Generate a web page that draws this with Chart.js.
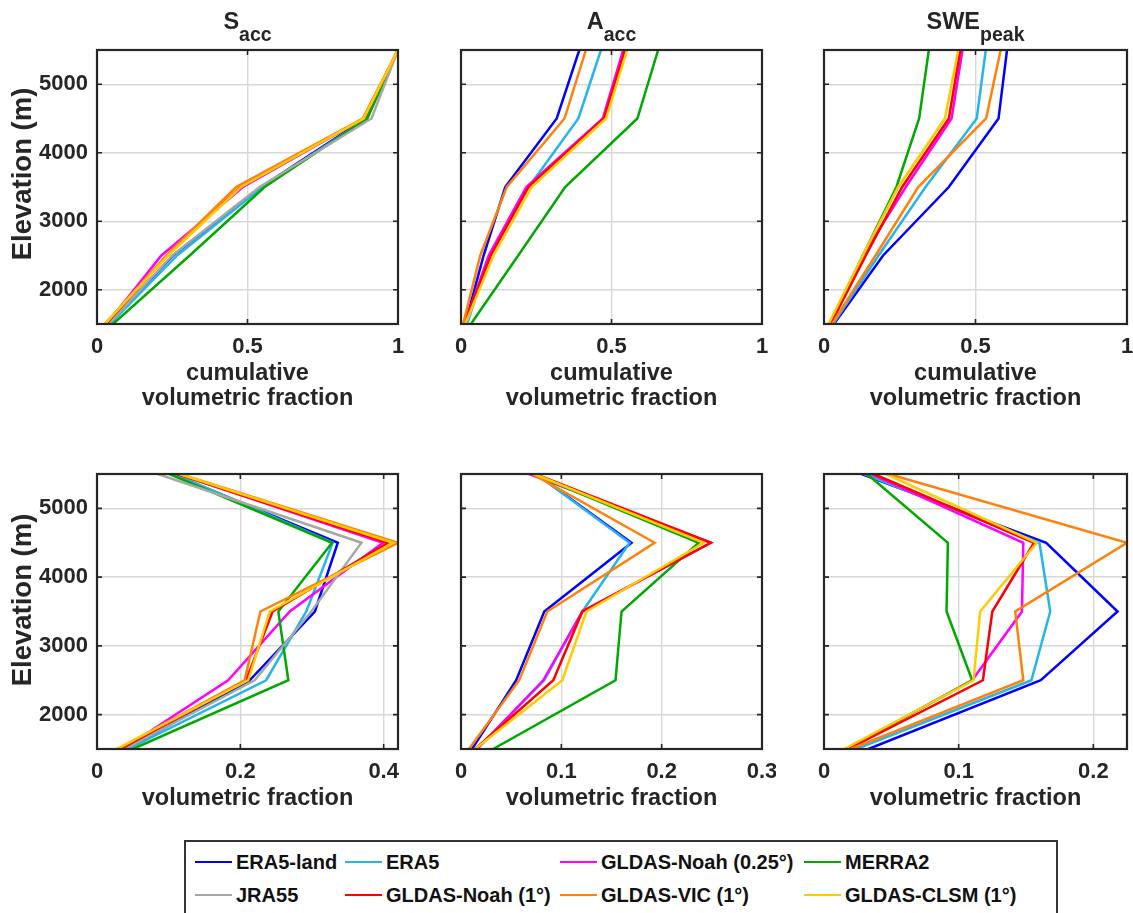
<!DOCTYPE html>
<html>
<head>
<meta charset="utf-8">
<script src="https://cdn.jsdelivr.net/npm/chart.js@4.4.1/dist/chart.umd.min.js"></script>
<style>
  html, body { margin: 0; padding: 0; background: #fff; width: 1133px; height: 913px; overflow: hidden;
               font-family: "Liberation Sans", Arial, Helvetica, sans-serif; color: #262626; }
  .panel { position: absolute; }
  .ptitle { position: absolute; font-weight: bold; font-size: 23.5px; line-height: 23px; text-align: center; white-space: nowrap; }
  .ptitle sub { font-size: 19.5px; vertical-align: -12px; line-height: 0; }
  .ytitle { position: absolute; font-weight: bold; font-size: 27.5px; line-height: 28px; white-space: nowrap;
            transform: translate(-50%, -50%) rotate(-90deg); }
  #legend { position: absolute; left: 184px; top: 840px; width: 874px; height: 82px; box-sizing: border-box;
            border: 2px solid #333; background: #fff; }
  .litem { position: absolute; font-weight: bold; font-size: 20px; line-height: 20px; white-space: nowrap; color: #111; }
  .lswatch { position: absolute; width: 37px; height: 2.5px; }
</style>
</head>
<body>
<script>
// ---- data -------------------------------------------------------------
const elevations = [1500, 2500, 3500, 4500, 5500];

const seriesNames = ['ERA5-land', 'ERA5', 'GLDAS-Noah (0.25°)', 'MERRA2',
                     'JRA55', 'GLDAS-Noah (1°)', 'GLDAS-VIC (1°)', 'GLDAS-CLSM (1°)'];
const seriesColors = ['#0000ff', '#27b4ea', '#ff00ff', '#00a800',
                      '#a3aaa3', '#ff0000', '#ff800a', '#ffcc00'];

// cumulative volumetric fraction by elevation band (rows follow seriesNames; null = product not available)
const sAccCumulative = [
  [0.040, 0.252, 0.545, 0.892, 1.000],
  [0.043, 0.266, 0.550, 0.897, 1.000],
  [0.032, 0.214, 0.485, 0.886, 1.000],
  [0.053, 0.308, 0.557, 0.898, 1.000],
  [0.038, 0.250, 0.540, 0.912, 1.000],
  [0.030, 0.234, 0.476, 0.886, 1.000],
  [0.026, 0.230, 0.462, 0.883, 1.000],
  [0.026, 0.236, 0.478, 0.886, 1.000]
];
const aAccCumulative = [
  [0.014, 0.075, 0.147, 0.318, 0.393],
  [0.020, 0.095, 0.225, 0.390, 0.465],
  [0.012, 0.092, 0.217, 0.471, 0.539],
  [0.033, 0.190, 0.346, 0.586, 0.655],
  null,
  [0.010, 0.099, 0.224, 0.475, 0.545],
  [0.007, 0.064, 0.152, 0.344, 0.415],
  [0.014, 0.108, 0.235, 0.482, 0.552]
];
const swePeakCumulative = [
  [0.033, 0.195, 0.412, 0.576, 0.604],
  [0.030, 0.180, 0.335, 0.504, 0.534],
  [0.018, 0.128, 0.270, 0.421, 0.457],
  [0.019, 0.128, 0.239, 0.314, 0.346],
  null,
  [0.022, 0.138, 0.258, 0.412, 0.450],
  [0.027, 0.170, 0.311, 0.535, 0.583],
  [0.015, 0.128, 0.245, 0.399, 0.443]
];

// volumetric fraction per elevation band
const sAccFraction = [
  [0.041, 0.213, 0.304, 0.336, 0.105],
  [0.043, 0.236, 0.292, 0.329, 0.108],
  [0.036, 0.183, 0.269, 0.399, 0.113],
  [0.050, 0.267, 0.253, 0.328, 0.101],
  [0.038, 0.220, 0.299, 0.369, 0.085],
  [0.033, 0.208, 0.245, 0.406, 0.112],
  [0.029, 0.206, 0.228, 0.420, 0.116],
  [0.027, 0.211, 0.241, 0.413, 0.115]
];
const aAccFraction = [
  [0.011, 0.055, 0.083, 0.170, 0.075],
  [0.016, 0.083, 0.121, 0.168, 0.075],
  [0.016, 0.082, 0.121, 0.249, 0.068],
  [0.032, 0.154, 0.160, 0.237, 0.072],
  null,
  [0.014, 0.092, 0.121, 0.249, 0.074],
  [0.008, 0.058, 0.086, 0.193, 0.071],
  [0.014, 0.101, 0.125, 0.242, 0.073]
];
const swePeakFraction = [
  [0.033, 0.161, 0.218, 0.165, 0.028],
  [0.024, 0.154, 0.168, 0.160, 0.030],
  [0.017, 0.110, 0.147, 0.148, 0.035],
  [0.017, 0.110, 0.091, 0.092, 0.032],
  null,
  [0.018, 0.118, 0.125, 0.156, 0.037],
  [0.020, 0.148, 0.142, 0.225, 0.048],
  [0.015, 0.111, 0.116, 0.158, 0.046]
];

// ---- axes -------------------------------------------------------------
const yRange = [1500, 5500];
const yTicks = [2000, 3000, 4000, 5000];
const yTickLabels = ['2000', '3000', '4000', '5000'];

const xTicksCumulative = [0, 0.5, 1];
const xTickLabelsCumulative = ['0', '0.5', '1'];
const xTicksS = [0, 0.2, 0.4];
const xTickLabelsS = ['0', '0.2', '0.4'];
const xTicksA = [0, 0.1, 0.2, 0.3];
const xTickLabelsA = ['0', '0.1', '0.2', '0.3'];
const xTicksSWE = [0, 0.1, 0.2];
const xTickLabelsSWE = ['0', '0.1', '0.2'];

const xMaxCumulative = 1;
const xMaxS = 0.42;
const xMaxA = 0.3;
const xMaxSWE = 0.225;

const titleCumulative = ['cumulative', 'volumetric fraction'];
const titleFraction = 'volumetric fraction';

// ---- layout -----------------------------------------------------------
const FONT = '"Liberation Sans", Arial, Helvetica, sans-serif';
const INK = '#262626';
const GRID = '#d8d8d8';
const PLOT_X = [[97, 398], [461, 762], [824, 1127]];
const PLOT_Y = [[50, 324], [474, 749]];

const panels = [
  { col: 0, row: 0, data: sAccCumulative,    xMax: xMaxCumulative, xTicks: xTicksCumulative, xLabels: xTickLabelsCumulative, xTitle: titleCumulative },
  { col: 1, row: 0, data: aAccCumulative,    xMax: xMaxCumulative, xTicks: xTicksCumulative, xLabels: xTickLabelsCumulative, xTitle: titleCumulative },
  { col: 2, row: 0, data: swePeakCumulative, xMax: xMaxCumulative, xTicks: xTicksCumulative, xLabels: xTickLabelsCumulative, xTitle: titleCumulative },
  { col: 0, row: 1, data: sAccFraction,      xMax: xMaxS,   xTicks: xTicksS,   xLabels: xTickLabelsS,   xTitle: titleFraction },
  { col: 1, row: 1, data: aAccFraction,      xMax: xMaxA,   xTicks: xTicksA,   xLabels: xTickLabelsA,   xTitle: titleFraction },
  { col: 2, row: 1, data: swePeakFraction,   xMax: xMaxSWE, xTicks: xTicksSWE, xLabels: xTickLabelsSWE, xTitle: titleFraction }
];

// axes box with inward tick marks on all four sides
const framePlugin = {
  id: 'frame',
  afterDatasetsDraw(chart) {
    const { ctx, chartArea: a, scales: { x, y } } = chart;
    const len = 5;
    ctx.save();
    ctx.strokeStyle = INK;
    ctx.lineWidth = 1.6;
    ctx.beginPath();
    x.ticks.forEach(t => {
      const px = x.getPixelForValue(t.value);
      ctx.moveTo(px, a.bottom); ctx.lineTo(px, a.bottom - len);
      ctx.moveTo(px, a.top);    ctx.lineTo(px, a.top + len);
    });
    y.ticks.forEach(t => {
      const py = y.getPixelForValue(t.value);
      ctx.moveTo(a.left, py);  ctx.lineTo(a.left + len, py);
      ctx.moveTo(a.right, py); ctx.lineTo(a.right - len, py);
    });
    ctx.stroke();
    ctx.lineWidth = 2.2;
    ctx.strokeRect(a.left, a.top, a.right - a.left, a.bottom - a.top);
    ctx.restore();
  }
};

function makePanel(p) {
  const L = p.col === 0 ? 97 : 14, T = 14, R = 14, B = p.row === 0 ? 87 : 62;
  const [x0, x1] = PLOT_X[p.col], [y0, y1] = PLOT_Y[p.row];
  const W = (x1 - x0) + L + R, H = (y1 - y0) + T + B;

  const wrap = document.createElement('div');
  wrap.className = 'panel';
  wrap.style.left = (x0 - L) + 'px';
  wrap.style.top = (y0 - T) + 'px';
  wrap.style.width = W + 'px';
  wrap.style.height = H + 'px';
  const canvas = document.createElement('canvas');
  canvas.width = W; canvas.height = H;
  canvas.style.width = W + 'px'; canvas.style.height = H + 'px';
  wrap.appendChild(canvas);
  document.body.appendChild(wrap);

  const datasets = [];
  p.data.forEach((vals, i) => {
    if (!vals) return;
    datasets.push({
      label: seriesNames[i],
      data: vals.map((v, k) => ({ x: v, y: elevations[k] })),
      showLine: true,
      borderColor: seriesColors[i],
      backgroundColor: seriesColors[i],
      borderWidth: 2.5,
      pointRadius: 0,
      pointHoverRadius: 0,
      tension: 0,
      order: -i
    });
  });

  new Chart(canvas, {
    type: 'scatter',
    data: { datasets },
    plugins: [framePlugin],
    options: {
      responsive: false,
      animation: false,
      events: [],
      devicePixelRatio: 1,
      layout: { padding: { left: 0, top: T, right: R, bottom: 0 }, autoPadding: false },
      plugins: { legend: { display: false }, tooltip: { enabled: false } },
      scales: {
        x: {
          type: 'linear', min: 0, max: p.xMax,
          afterBuildTicks: s => { s.ticks = p.xTicks.map(v => ({ value: v })); },
          afterFit: s => { s.height = B; s.paddingLeft = 0; s.paddingRight = 0; },
          border: { display: false },
          grid: { color: GRID, lineWidth: 1.4, drawTicks: false },
          ticks: {
            autoSkip: false, maxRotation: 0, padding: 10, color: INK,
            font: { family: FONT, size: 22, weight: 'bold' },
            callback: (v, i) => p.xLabels[i]
          },
          title: {
            display: true, text: p.xTitle, color: INK, padding: { top: 0, bottom: 0 },
            font: { family: FONT, size: 23.5, weight: 'bold', lineHeight: '25px' }
          }
        },
        y: {
          type: 'linear', min: yRange[0], max: yRange[1],
          afterBuildTicks: s => { s.ticks = yTicks.map(v => ({ value: v })); },
          afterFit: s => { s.width = L; s.paddingTop = 0; s.paddingBottom = 0; },
          border: { display: false },
          grid: { color: GRID, lineWidth: 1.4, drawTicks: false },
          ticks: {
            display: p.col === 0, autoSkip: false, padding: 9, color: INK,
            font: { family: FONT, size: 22, weight: 'bold' },
            callback: (v, i) => yTickLabels[i]
          }
        }
      }
    }
  });
}

panels.forEach(makePanel);

// panel titles
[['S', 'acc'], ['A', 'acc'], ['SWE', 'peak']].forEach(([main, sub], c) => {
  const d = document.createElement('div');
  d.className = 'ptitle';
  d.style.left = PLOT_X[c][0] + 'px';
  d.style.width = (PLOT_X[c][1] - PLOT_X[c][0]) + 'px';
  d.style.top = '10px';
  d.innerHTML = main + '<sub>' + sub + '</sub>';
  document.body.appendChild(d);
});

// y-axis titles
[174, 600].forEach(cy => {
  const d = document.createElement('div');
  d.className = 'ytitle';
  d.style.left = '22px';
  d.style.top = cy + 'px';
  d.textContent = 'Elevation (m)';
  document.body.appendChild(d);
});

// legend: four columns, filled row by row
const legend = document.createElement('div');
legend.id = 'legend';
document.body.appendChild(legend);
const legendColX = [195, 345, 560, 804];
const legendRowY = [862, 895];
seriesNames.forEach((name, i) => {
  const col = i % 4, row = Math.floor(i / 4);
  const sw = document.createElement('div');
  sw.className = 'lswatch';
  sw.style.background = seriesColors[i];
  sw.style.left = legendColX[col] + 'px';
  sw.style.top = (legendRowY[row] - 1.25) + 'px';
  const tx = document.createElement('div');
  tx.className = 'litem';
  tx.style.left = (legendColX[col] + 41) + 'px';
  tx.style.top = (legendRowY[row] - 10) + 'px';
  tx.textContent = name;
  document.body.appendChild(sw);
  document.body.appendChild(tx);
});
</script>
</body>
</html>
